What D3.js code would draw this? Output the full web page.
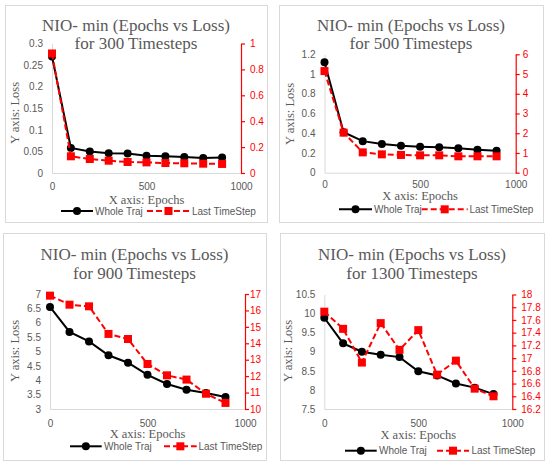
<!DOCTYPE html>
<html>
<head>
<meta charset="utf-8">
<script src="https://cdn.jsdelivr.net/npm/d3@7"></script>
<style>
  html, body { margin: 0; padding: 0; background: #fff; }
  svg { display: block; }
</style>
</head>
<body>
<div id="chart"></div>
<script>
// epochs shared by all four runs
const epochs = [0, 100, 200, 300, 400, 500, 600, 700, 800, 900];

// loss values
const whole300 = [0.270, 0.058, 0.050, 0.046, 0.045, 0.040, 0.039, 0.037, 0.035, 0.036];
const last300  = [0.923, 0.129, 0.108, 0.095, 0.085, 0.082, 0.077, 0.075, 0.072, 0.070];
const whole500 = [1.12, 0.41, 0.32, 0.29, 0.274, 0.264, 0.257, 0.247, 0.233, 0.223];
const last500  = [5.15, 2.03, 1.03, 0.93, 0.90, 0.88, 0.88, 0.83, 0.83, 0.83];
const whole900 = [6.55, 5.68, 5.35, 4.87, 4.61, 4.19, 3.87, 3.67, 3.56, 3.42];
const last900  = [16.9, 16.35, 16.25, 14.57, 14.26, 12.74, 12.05, 11.79, 10.93, 10.37];
const whole1300 = [9.89, 9.22, 9.00, 8.92, 8.86, 8.49, 8.38, 8.17, 8.06, 7.89];
const last1300  = [17.73, 17.46, 16.93, 17.55, 17.13, 17.44, 16.74, 16.96, 16.52, 16.40];

// tick labels
const xTicks = [0, 500, 1000];
const left300  = [0, 0.05, 0.1, 0.15, 0.2, 0.25, 0.3];
const right300 = [0, 0.2, 0.4, 0.6, 0.8, 1];
const left500  = [0, 0.2, 0.4, 0.6, 0.8, 1, 1.2];
const right500 = [0, 1, 2, 3, 4, 5, 6];
const left900  = [3, 3.5, 4, 4.5, 5, 5.5, 6, 6.5, 7];
const right900 = [10, 11, 12, 13, 14, 15, 16, 17];
const left1300  = [7.5, 8, 8.5, 9, 9.5, 10, 10.5];
const right1300 = [16.2, 16.4, 16.6, 16.8, 17, 17.2, 17.4, 17.6, 17.8, 18];

const timesteps = [300, 500, 900, 1300];
const wholeSeries = [whole300, whole500, whole900, whole1300];
const lastSeries = [last300, last500, last900, last1300];
const leftTicks = [left300, left500, left900, left1300];
const rightTicks = [right300, right500, right900, right1300];

// layout of each panel (pixels)
const layout = [
  { box: [5, 5, 267, 222], plot: [52, 241, 43.5, 173], title: [30.5, 49], xLab: 186.7, xTitle: 204, yTitle: [15, 113], rGap: 9,
    leg: { y: 211, b: [61, 93], t1: 95, r: [147, 190], t2: 192 } },
  { box: [279, 5, 543, 222], plot: [324.5, 515.7, 54.3, 172.7], title: [30.5, 49], xLab: 185, xTitle: 200, yTitle: [290, 114], rGap: 7,
    leg: { y: 209.3, b: [339, 372], t1: 374, r: [421.7, 467.7], t2: 469.5 } },
  { box: [3, 233, 266, 460], plot: [50, 245, 294, 409], title: [260, 278.5], xLab: 423, xTitle: 438, yTitle: [15, 351], rGap: 5,
    leg: { y: 446.3, b: [70, 101.7], t1: 104, r: [164, 196.7], t2: 198.5 } },
  { box: [280, 233, 544, 460], plot: [324.3, 512.3, 294.5, 409], title: [260, 278.5], xLab: 423, xTitle: 439, yTitle: [288, 351], rGap: 9,
    leg: { y: 450.7, b: [345, 376.7], t1: 379, r: [437, 469], t2: 471.5 } }
];

const GREY = '#595959';
const RED = '#ff0000';
const SERIF = '"Liberation Serif", "Times New Roman", serif';
const SANS = '"Liberation Sans", Arial, sans-serif';
const fmt = d3.format('~g');

const svg = d3.select('#chart').append('svg')
  .attr('width', 550)
  .attr('height', 466);

svg.append('rect').attr('width', 550).attr('height', 466).attr('fill', '#fff');

timesteps.forEach((ts, i) => {
  const L = layout[i];
  const [x0, x1, yTop, yBot] = L.plot;
  const g = svg.append('g');

  // panel frame
  g.append('rect')
    .attr('x', L.box[0] + 0.5).attr('y', L.box[1] + 0.5)
    .attr('width', L.box[2] - L.box[0]).attr('height', L.box[3] - L.box[1])
    .attr('fill', 'none').attr('stroke', '#d9d9d9').attr('stroke-width', 1);

  const lt = leftTicks[i], rt = rightTicks[i];
  const x = d3.scaleLinear().domain([0, 1000]).range([x0, x1]);
  const yL = d3.scaleLinear().domain([lt[0], lt[lt.length - 1]]).range([yBot, yTop]);
  const yR = d3.scaleLinear().domain([rt[0], rt[rt.length - 1]]).range([yBot, yTop]);

  // titles
  const title = g.append('text')
    .attr('text-anchor', 'middle')
    .attr('fill', GREY)
    .style('font-family', SERIF)
    .style('font-size', '17px');
  const cx = (L.box[0] + L.box[2]) / 2;
  title.append('tspan').attr('x', cx).attr('y', L.title[0]).text('NIO- min (Epochs vs Loss)');
  title.append('tspan').attr('x', cx).attr('y', L.title[1]).text(`for ${ts} Timesteps`);

  // left axis (line only, no ticks)
  const axL = g.append('g').attr('transform', `translate(${x0},0)`)
    .call(d3.axisLeft(yL).tickValues(lt).tickFormat(fmt).tickSize(0).tickPadding(9));
  axL.select('.domain').attr('stroke', '#d9d9d9');
  axL.selectAll('text').attr('fill', GREY).style('font-family', SANS).style('font-size', '10px');

  // bottom axis
  const axB = g.append('g').attr('transform', `translate(0,${yBot})`)
    .call(d3.axisBottom(x).tickValues(xTicks).tickSize(0).tickFormat(d3.format('d')));
  axB.select('.domain').attr('stroke', '#d9d9d9');
  axB.selectAll('text')
    .attr('fill', GREY).attr('y', L.xLab - yBot).attr('dy', '0.35em')
    .style('font-family', SANS).style('font-size', '10px');

  // right axis (red, outside ticks)
  const axR = g.append('g').attr('transform', `translate(${x1},0)`)
    .call(d3.axisRight(yR).tickValues(rt).tickFormat(fmt).tickSizeInner(4).tickSizeOuter(0).tickPadding(L.rGap - 4));
  axR.select('.domain').attr('stroke', RED).attr('stroke-width', 1.2);
  axR.selectAll('.tick line').attr('stroke', RED).attr('stroke-width', 1.2);
  axR.selectAll('text').attr('fill', RED).style('font-family', SANS).style('font-size', '10px');

  // axis titles
  g.append('text')
    .attr('x', (x0 + x1) / 2).attr('y', L.xTitle)
    .attr('text-anchor', 'middle').attr('fill', GREY)
    .style('font-family', SERIF).style('font-size', '12.5px')
    .text('X axis: Epochs');
  g.append('text')
    .attr('transform', `translate(${L.yTitle[0]},${L.yTitle[1]}) rotate(-90)`)
    .attr('text-anchor', 'middle').attr('dy', '0.35em').attr('fill', GREY)
    .style('font-family', SERIF).style('font-size', '12.5px')
    .text('Y axis: Loss');

  const whole = epochs.map((e, k) => [e, wholeSeries[i][k]]);
  const last = epochs.map((e, k) => [e, lastSeries[i][k]]);

  // Whole Traj series (left axis)
  g.append('path')
    .datum(whole)
    .attr('fill', 'none').attr('stroke', '#000').attr('stroke-width', 2)
    .attr('d', d3.line().x(d => x(d[0])).y(d => yL(d[1])));
  g.selectAll('.dot').data(whole).enter().append('circle')
    .attr('cx', d => x(d[0])).attr('cy', d => yL(d[1])).attr('r', 4)
    .attr('fill', '#000');

  // Last TimeStep series (right axis)
  g.append('path')
    .datum(last)
    .attr('fill', 'none').attr('stroke', RED).attr('stroke-width', 2)
    .attr('stroke-dasharray', '6,3')
    .attr('d', d3.line().x(d => x(d[0])).y(d => yR(d[1])));
  g.selectAll('.sq').data(last).enter().append('rect')
    .attr('x', d => x(d[0]) - 4).attr('y', d => yR(d[1]) - 4)
    .attr('width', 8).attr('height', 8)
    .attr('fill', RED);

  // legend
  const lg = L.leg;
  g.append('line').attr('x1', lg.b[0]).attr('x2', lg.b[1]).attr('y1', lg.y).attr('y2', lg.y)
    .attr('stroke', '#000').attr('stroke-width', 2);
  g.append('circle').attr('cx', (lg.b[0] + lg.b[1]) / 2).attr('cy', lg.y).attr('r', 4).attr('fill', '#000');
  g.append('text').attr('x', lg.t1).attr('y', lg.y).attr('dy', '0.35em').attr('fill', GREY)
    .style('font-family', SANS).style('font-size', '10px').text('Whole Traj');
  g.append('line').attr('x1', lg.r[0]).attr('x2', lg.r[1]).attr('y1', lg.y).attr('y2', lg.y)
    .attr('stroke', RED).attr('stroke-width', 2).attr('stroke-dasharray', '6,3');
  g.append('rect').attr('x', (lg.r[0] + lg.r[1]) / 2 - 4).attr('y', lg.y - 4)
    .attr('width', 8).attr('height', 8).attr('fill', RED);
  g.append('text').attr('x', lg.t2).attr('y', lg.y).attr('dy', '0.35em').attr('fill', GREY)
    .style('font-family', SANS).style('font-size', '10px').text('Last TimeStep');
});
</script>
</body>
</html>
